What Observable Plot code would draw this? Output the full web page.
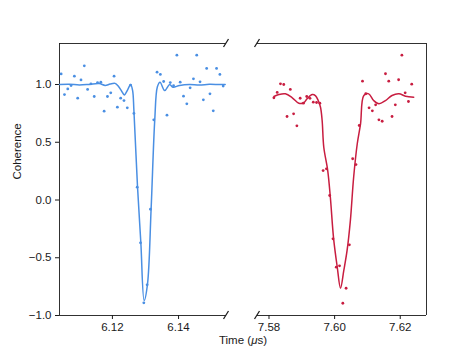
<!DOCTYPE html>
<html>
<head>
<meta charset="utf-8">
<script src="https://cdn.jsdelivr.net/npm/d3@7"></script>
<script src="https://cdn.jsdelivr.net/npm/@observablehq/plot@0.6"></script>
<style>
  html, body { margin: 0; padding: 0; background: #fff; }
  #wrap { position: relative; width: 474px; height: 354px; font-family: "Liberation Sans", Arial, sans-serif; }
  #left, #right { position: absolute; top: 0; }
  #left { left: 0; }
  #right { left: 240px; }
  #xlabel { position: absolute; top: 334px; left: 0; width: 486px; text-align: center; font-size: 11.5px; color: #1a1a1a; }
</style>
</head>
<body>
<div id="wrap">
  <div id="left"></div>
  <div id="right"></div>
  <div id="xlabel">Time (<i>μ</i>s)</div>
</div>
<script>
// ---- data ----
const yDomain = [-1.0, 1.355];
const yTicks = [-1.0, -0.5, 0.0, 0.5, 1.0];

const leftDomain = [6.104, 6.1545];
const leftTicks = [6.12, 6.14];
const leftT = [6.1045, 6.1055, 6.1065, 6.1075, 6.1085, 6.1095, 6.1105, 6.1115, 6.1125, 6.1135,
               6.1145, 6.1155, 6.1165, 6.1175, 6.1185, 6.1195, 6.1205, 6.1215, 6.1225, 6.1235,
               6.1245, 6.1255, 6.1265, 6.1275, 6.1285, 6.1295, 6.1305, 6.1315, 6.1325, 6.1335,
               6.1345, 6.1355, 6.1365, 6.1375, 6.1385, 6.1395, 6.1405, 6.1415, 6.1425, 6.1435,
               6.1445, 6.1455, 6.1465, 6.1475, 6.1485, 6.1495, 6.1505, 6.1515, 6.1525, 6.1535];
const leftV = [1.092, 0.913, 0.962, 0.991, 1.072, 0.882, 1.040, 1.162, 0.957, 1.006,
               0.896, 1.017, 1.020, 0.769, 0.896, 0.928, 1.072, 0.804, 0.882, 0.861,
               0.798, 0.995, 0.750, 0.111, -0.371, -0.890, -0.734, -0.080, 0.694, 1.107,
               1.087, 1.026, 0.734, 1.017, 0.990, 1.254, 1.020, 0.899, 0.833, 0.971,
               1.049, 1.254, 1.023, 0.867, 1.139, 0.919, 0.772, 1.139, 1.087, 0.986];
const leftFitT = [6.1040, 6.1070, 6.1100, 6.1130, 6.1160, 6.1178, 6.1193, 6.1208, 6.1218, 6.1228,
                  6.1236, 6.1246, 6.1255, 6.1261, 6.1265, 6.1276, 6.1286, 6.1296, 6.1306, 6.1317,
                  6.1328, 6.1336, 6.1344, 6.1358, 6.1373, 6.1383, 6.1403, 6.1433, 6.1463, 6.1493,
                  6.1523, 6.1541];
const leftFitV = [1.000, 1.002, 0.996, 1.001, 1.008, 0.992, 1.004, 1.010, 0.985, 0.942,
                  0.910, 0.954, 1.000, 0.950, 0.775, 0.111, -0.370, -0.870, -0.730, -0.080,
                  0.690, 0.980, 1.020, 0.948, 1.000, 0.977, 0.992, 1.000, 0.995, 1.002,
                  1.000, 1.000];

const rightDomain = [7.5765, 7.628];
const rightTicks = [7.58, 7.60, 7.62];
const rightT = [7.5815, 7.5825, 7.5835, 7.5845, 7.5855, 7.5865, 7.5875, 7.5885, 7.5895, 7.5905,
                7.5915, 7.5925, 7.5935, 7.5945, 7.5955, 7.5965, 7.5975, 7.5985, 7.5995, 7.6005,
                7.6015, 7.6025, 7.6035, 7.6045, 7.6055, 7.6065, 7.6075, 7.6085, 7.6095, 7.6105,
                7.6115, 7.6125, 7.6135, 7.6145, 7.6155, 7.6165, 7.6175, 7.6185, 7.6195, 7.6205,
                7.6215, 7.6225, 7.6235];
const rightV = [0.885, 0.931, 1.006, 1.000, 0.723, 0.957, 0.746, 0.642, 0.881, 0.838,
                0.896, 0.880, 0.847, 0.844, 0.838, 0.255, 0.270, 0.039, -0.336, -0.582,
                -0.570, -0.894, -0.764, -0.388, 0.357, 0.307, 0.645, 1.029, 0.920, 0.798,
                0.772, 0.824, 0.694, 0.682, 1.093, 1.029, 0.723, 0.824, 1.041, 1.254,
                0.928, 0.853, 1.003];
const rightFitT = [7.5815, 7.5830, 7.5850, 7.5871, 7.5891, 7.5906, 7.5916, 7.5932, 7.5942, 7.5950,
                   7.5957, 7.5962, 7.5967, 7.5979, 7.5987, 7.5997, 7.6008, 7.6018, 7.6028, 7.6038,
                   7.6048, 7.6058, 7.6069, 7.6079, 7.6089, 7.6104, 7.6119, 7.6135, 7.6155, 7.6175,
                   7.6196, 7.6216, 7.6241];
const rightFitV = [0.896, 0.913, 0.919, 0.885, 0.838, 0.842, 0.876, 0.913, 0.902, 0.861,
                   0.803, 0.688, 0.457, 0.255, 0.024, -0.336, -0.580, -0.764, -0.610, -0.437,
                   -0.178, 0.197, 0.487, 0.660, 0.905, 0.919, 0.861, 0.833, 0.861, 0.905,
                   0.919, 0.899, 0.890];

const blue = "#4a8fe3";
const red = "#c81d40";
const ink = "#1a1a1a";

const zip = (t, v) => t.map((d, i) => ({t: d, v: v[i]}));

function breakMarks(corners) {
  return (index, scales) => {
    const g = d3.create("svg:g");
    for (const [cx, cy] of corners) {
      const x = scales.x(cx), y = scales.y(cy);
      g.append("line")
        .attr("x1", x - 2.5).attr("y1", y + 4)
        .attr("x2", x + 2.5).attr("y2", y - 4)
        .attr("stroke", ink).attr("stroke-width", 1.3);
    }
    return g.node();
  };
}

const common = {
  height: 354,
  marginTop: 43,
  marginBottom: 39,
  style: {fontFamily: "'Liberation Sans', Arial, sans-serif", fontSize: "11.5px", color: ink, background: "white", overflow: "visible"}
};

const left = Plot.plot({
  ...common,
  width: 240,
  marginLeft: 59,
  marginRight: 14,
  x: {domain: leftDomain, ticks: leftTicks, tickFormat: d3.format(".2f"), tickSize: 4, tickPadding: 3, label: null},
  y: {domain: yDomain, ticks: yTicks, tickFormat: d3.format(".1f"), tickSize: 4, tickPadding: 4, label: null},
  marks: [
    Plot.ruleX([leftDomain[0]], {stroke: ink, strokeWidth: 0.9}),
    Plot.ruleY([yDomain[0], yDomain[1]], {stroke: ink, strokeWidth: 0.9}),
    Plot.line(zip(leftFitT, leftFitV), {x: "t", y: "v", stroke: blue, strokeWidth: 1.5, curve: "catmull-rom"}),
    Plot.dot(zip(leftT, leftV), {x: "t", y: "v", r: 1.4, fill: blue}),
    Plot.text(["Coherence"], {text: d => d, frameAnchor: "left", rotate: -90, dx: -42, fontSize: 11.5, fill: ink}),
    breakMarks([[leftDomain[1], yDomain[1]], [leftDomain[1], yDomain[0]]])
  ]
});

const right = Plot.plot({
  ...common,
  width: 234,
  marginLeft: 17,
  marginRight: 48,
  x: {domain: rightDomain, ticks: rightTicks, tickFormat: d3.format(".2f"), tickSize: 4, tickPadding: 3, label: null},
  y: {domain: yDomain, axis: null},
  marks: [
    Plot.ruleX([rightDomain[1]], {stroke: ink, strokeWidth: 0.9}),
    Plot.ruleY([yDomain[0], yDomain[1]], {stroke: ink, strokeWidth: 0.9}),
    Plot.line(zip(rightFitT, rightFitV), {x: "t", y: "v", stroke: red, strokeWidth: 1.5, curve: "catmull-rom"}),
    Plot.dot(zip(rightT, rightV), {x: "t", y: "v", r: 1.4, fill: red}),
    breakMarks([[rightDomain[0], yDomain[1]], [rightDomain[0], yDomain[0]]])
  ]
});

document.getElementById("left").append(left);
document.getElementById("right").append(right);
</script>
</body>
</html>
